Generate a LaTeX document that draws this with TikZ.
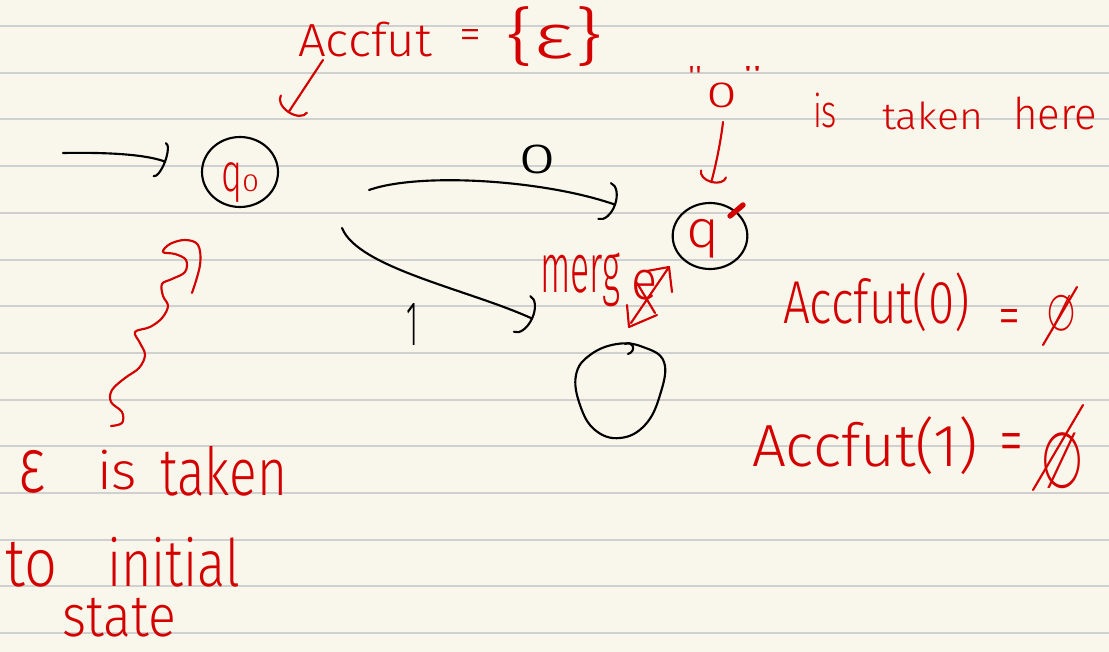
\documentclass[tikz,border=0pt]{standalone}
\usepackage{fontspec}
\usepackage{graphicx}
\usetikzlibrary{arrows.meta,shapes.geometric,calc}
\newfontfamily\hand{Fira Sans Light}
\newfontfamily\symf{Fira Sans Light}
\definecolor{paper}{RGB}{249,247,235}
\definecolor{rulegray}{RGB}{208,208,208}
\definecolor{redink}{RGB}{212,0,0}
\newdimen\upx \upx=0.75pt
\newcommand\fitbox[3]{\resizebox*{#1\upx}{#2\upx}{#3}}
\tikzset{
  bst/.style={draw=black, line width=1.6pt, line cap=round, line join=round},
  rst/.style={draw=redink, line width=1.6pt, line cap=round, line join=round},
  stnode/.style={ellipse, draw=black, line width=1.6pt, inner sep=0pt},
  ghost/.style={ellipse, draw=none, inner sep=0pt},
  rtxt/.style={inner sep=0pt, outer sep=0pt, anchor=north west, text=redink, font=\hand},
  btxt/.style={inner sep=0pt, outer sep=0pt, anchor=north west, text=black, font=\hand},
}
\begin{document}
\begin{tikzpicture}[x=0.75pt,y=-0.75pt]
\useasboundingbox (0,0) rectangle (1109,652);
\fill[paper] (0,0) rectangle (1109,652);
\foreach \k in {0,...,13} \draw[rulegray, line width=1.5pt] (0,{26+46.7*\k}) -- (1109,{26+46.7*\k});

% states
\node[stnode, minimum width=57pt, minimum height=52.5pt] (q0) at (240,172) {};
\node[stnode, minimum width=56pt, minimum height=49.5pt] (q1) at (710,236) {};
\node[ghost, minimum width=67pt, minimum height=72pt] (q2) at (620,390) {};
\draw[bst] plot[smooth cycle, tension=0.7] coordinates {(617,344) (643,347) (664,362) (660,395) (645,425) (620,438) (595,430) (580,405) (576,375) (590,355)};
\draw[bst] (625,344) .. controls (633,340) and (637,351) .. (628,354);

% state labels
\node[rtxt] (q0q) at (221,163) {\fitbox{21}{40}{q}};
\node[rtxt] (q0s) at (242,175) {\fitbox{17}{17}{0}};
\node[rtxt] (q1q) at (686,219) {\fitbox{33}{39}{q}};
\draw[redink, line width=4pt, line cap=round] (730,216) -- (743,205);

% initial arrow
\coordinate (iS) at (63,153);
\coordinate (iE) at (166,162);
\draw[bst, -{Arc Barb[width=28pt,length=5pt,round]}] (iS) .. controls (120,152) and (150,156) .. (iE);

% transition 0
\coordinate (a0s) at (369,190);
\coordinate (a0e) at (616,205);
\draw[bst, -{Arc Barb[width=30pt,length=9pt,round]}] (a0s) .. controls (420,172) and (545,180) .. (a0e);
\node[btxt] (lab0) at (518,145) {\fitbox{38}{29}{0}};

% transition 1
\coordinate (a1s) at (342,228);
\coordinate (a1e) at (533,319);
\draw[bst, -{Arc Barb[width=31pt,length=9pt,round]}] (a1s) .. controls (358,268) and (470,290) .. (a1e);
\node[btxt] (lab1) at (406,303) {\fitbox{12}{42}{1}};

% Accfut = {eps}
\node[rtxt] (accf) at (298,22) {\fitbox{134}{35}{Accfut}};
\node[rtxt] (acceq) at (459,30) {\fitbox{22}{20}{=}};
\node[rtxt] (accset) at (505,7) {\fitbox{98}{60}{\{ε\}}};
\coordinate (accS) at (323,60);
\coordinate (accE) at (288,113);
\draw[rst, -{Arc Barb[width=25pt,length=8pt,round]}] (accS) -- (accE);

% "0" is taken here
\node[rtxt] (lq) at (687,67) {\fitbox{16}{18}{\char34}};
\node[rtxt] (zq) at (706,83) {\fitbox{31}{25}{0}};
\node[rtxt] (rq) at (742,67) {\fitbox{21}{13}{\char34}};
\node[rtxt] (is1) at (813,93) {\fitbox{24}{35}{is}};
\node[rtxt] (tk1) at (882,102) {\fitbox{101}{28}{taken}};
\node[rtxt] (hr1) at (1013,97) {\fitbox{84}{33}{here}};
\coordinate (zS) at (723,122);
\coordinate (zE) at (711,183);
\draw[rst, -{Arc Barb[width=21pt,length=7pt,round]}] (zS) .. controls (721,140) and (716,165) .. (zE);

% merge
\node[rtxt] (mg) at (540,253) {\fitbox{80}{54}{merg}};
\node[rtxt] (mge) at (631,270) {\fitbox{26}{30}{e}};
\draw[rst] (669,267) -- (631,323);
\draw[rst] (647,271) -- (669,267) -- (672,292);
\draw[rst] (627,305) -- (629,327) -- (657,315);
\draw[rst] (637,283) -- (655,313);

% Accfut(0) / Accfut(1)
\node[rtxt] (af0) at (783,273) {\fitbox{187}{59}{Accfut(0)}};
\node[rtxt] (eq0) at (998,309) {\fitbox{22}{26}{=}};
\node[rtxt] (em0) at (1046,295) {\fitbox{30}{36}{\symf ∅}};
\draw[rst] (1043,345) -- (1077,287);
\node[rtxt] (af1) at (752,417) {\fitbox{226}{58}{Accfut(1)}};
\node[rtxt] (eq1) at (999,433) {\fitbox{24}{30}{=}};
\node[rtxt] (em1) at (1040,433) {\fitbox{44}{56}{\symf ∅}};
\draw[rst] (1033,490) -- (1083,405);

% squiggle and left notes
\draw[rst] plot[smooth, tension=0.6] coordinates {(192,293) (200,265) (198,245) (185,240) (170,244) (163,252) (175,254) (186,260) (185,272) (172,279) (162,284) (163,296) (168,306) (162,318) (150,327) (135,332) (140,343) (145,355) (139,368) (125,378) (112,390) (111,402) (122,412) (122,423) (111,426)};
\node[rtxt] (eps) at (18,450) {\fitbox{27}{43}{ε}};
\node[rtxt] (is2) at (97,450) {\fitbox{40}{40}{is}};
\node[rtxt] (tk2) at (160,446) {\fitbox{127}{50}{taken}};
\node[rtxt] (to2) at (5,542) {\fitbox{52}{45}{to}};
\node[rtxt] (in2) at (107,537) {\fitbox{133}{50}{initial}};
\node[rtxt] (st2) at (62,598) {\fitbox{114}{39}{state}};
\end{tikzpicture}
\end{document}
